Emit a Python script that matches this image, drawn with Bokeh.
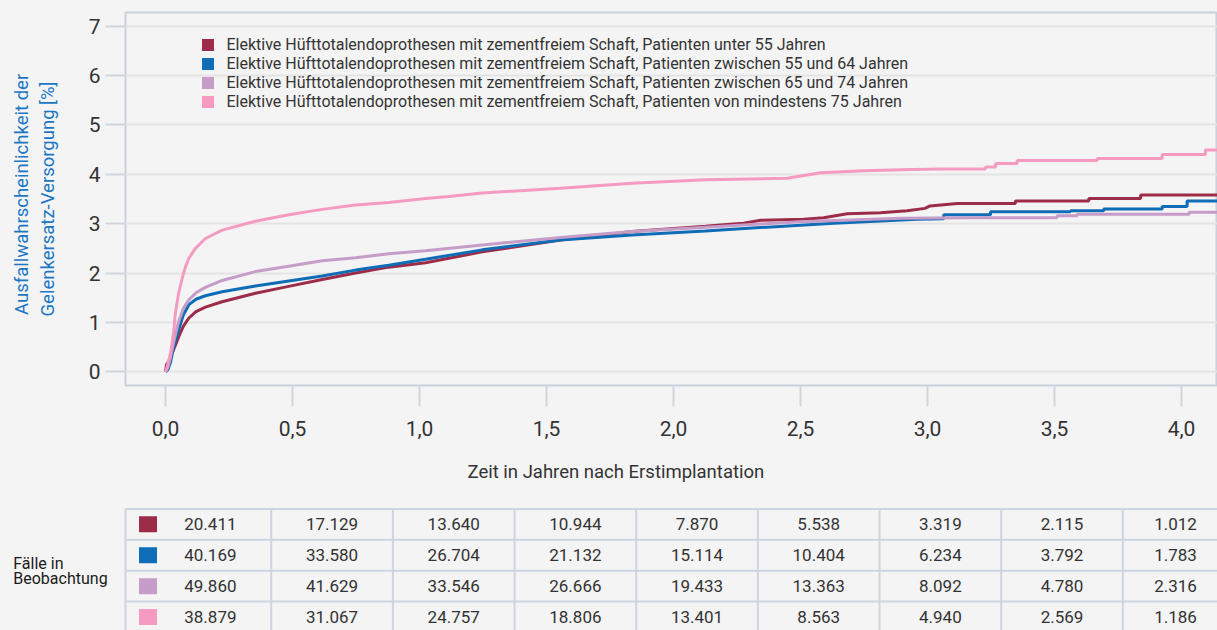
from bokeh.plotting import figure
from bokeh.models import (Range1d, FixedTicker, CustomJSTickFormatter, Legend,
                          LegendItem, Title)
from bokeh.layouts import column
from bokeh.embed import file_html
from bokeh.resources import INLINE
from bokeh.core.properties import value

# ---------------- data ----------------
series_labels = [
    "Elektive Hüfttotalendoprothesen mit zementfreiem Schaft, Patienten unter 55 Jahren",
    "Elektive Hüfttotalendoprothesen mit zementfreiem Schaft, Patienten zwischen 55 und 64 Jahren",
    "Elektive Hüfttotalendoprothesen mit zementfreiem Schaft, Patienten zwischen 65 und 74 Jahren",
    "Elektive Hüfttotalendoprothesen mit zementfreiem Schaft, Patienten von mindestens 75 Jahren",
]
colors = ["#9c2c47", "#0f6cb7", "#c69cc9", "#f59bc2"]

# cumulative failure probability [%] over years since implantation
t_u55 = [0, 0.004, 0.012, 0.026, 0.04, 0.052, 0.07, 0.092, 0.12, 0.157, 0.223, 0.354,
         0.485, 0.617, 0.748, 0.879, 1.024, 1.247, 1.555, 1.837, 2.126, 2.172, 2.276,
         2.343, 2.512, 2.591, 2.684, 2.815, 2.92, 2.99, 3.01, 3.117, 3.346, 3.346,
         3.635, 3.635, 3.839, 3.839, 4.15]
y_u55 = [0, 0.15, 0.2, 0.38, 0.55, 0.71, 0.92, 1.09, 1.22, 1.31, 1.42, 1.59,
         1.73, 1.87, 2.0, 2.12, 2.21, 2.43, 2.67, 2.84, 2.95, 2.97, 3.01,
         3.07, 3.09, 3.12, 3.2, 3.22, 3.26, 3.31, 3.36, 3.41, 3.41, 3.46,
         3.46, 3.51, 3.51, 3.58, 3.58]

t_55_64 = [0, 0.01, 0.02, 0.03, 0.04, 0.052, 0.07, 0.092, 0.12, 0.157, 0.223, 0.354,
           0.485, 0.617, 0.748, 0.879, 1.024, 1.247, 1.555, 1.837, 2.126, 2.369,
           2.631, 2.959, 3.064, 3.064, 3.248, 3.248, 3.563, 3.563, 3.694, 3.694,
           3.924, 3.924, 4.022, 4.022, 4.15]
y_55_64 = [0, 0.05, 0.2, 0.45, 0.65, 0.85, 1.15, 1.36, 1.47, 1.54, 1.62, 1.74,
           1.84, 1.94, 2.06, 2.16, 2.28, 2.47, 2.67, 2.77, 2.85, 2.93,
           3.01, 3.09, 3.1, 3.18, 3.18, 3.24, 3.24, 3.26, 3.26, 3.3,
           3.3, 3.35, 3.35, 3.46, 3.46]

t_65_74 = [0, 0.01, 0.02, 0.03, 0.04, 0.052, 0.07, 0.092, 0.12, 0.157, 0.223, 0.354,
           0.485, 0.617, 0.748, 0.879, 1.024, 1.247, 1.555, 1.837, 2.126, 2.5,
           2.894, 3.17, 3.51, 3.51, 3.589, 3.589, 4.03, 4.03, 4.15]
y_65_74 = [0, 0.1, 0.3, 0.55, 0.78, 1.02, 1.28, 1.46, 1.6, 1.71, 1.85, 2.03,
           2.14, 2.25, 2.31, 2.39, 2.45, 2.57, 2.72, 2.84, 2.93, 3.04,
           3.11, 3.12, 3.12, 3.16, 3.16, 3.19, 3.19, 3.23, 3.23]

t_75 = [0, 0.007, 0.013, 0.02, 0.026, 0.033, 0.039, 0.046, 0.052, 0.066, 0.079, 0.092,
        0.118, 0.157, 0.223, 0.354, 0.485, 0.617, 0.748, 0.879, 1.024, 1.115, 1.247,
        1.555, 1.837, 2.126, 2.448, 2.579, 2.75, 2.894, 3.05, 3.228, 3.228, 3.268,
        3.268, 3.353, 3.353, 3.668, 3.668, 3.924, 3.924, 4.094, 4.094, 4.15]
y_75 = [0, 0.12, 0.24, 0.38, 0.58, 0.85, 1.19, 1.42, 1.6, 1.9, 2.13, 2.3,
        2.5, 2.7, 2.87, 3.05, 3.18, 3.29, 3.38, 3.43, 3.51, 3.55, 3.62,
        3.72, 3.82, 3.89, 3.92, 4.03, 4.07, 4.09, 4.11, 4.11, 4.15, 4.15,
        4.22, 4.22, 4.28, 4.28, 4.32, 4.32, 4.40, 4.40, 4.49, 4.49]

series_t = [t_u55, t_55_64, t_65_74, t_75]
series_y = [y_u55, y_55_64, y_65_74, y_75]

x_ticks = [0.0, 0.5, 1.0, 1.5, 2.0, 2.5, 3.0, 3.5, 4.0]
y_ticks = [0, 1, 2, 3, 4, 5, 6, 7]

x_title = "Zeit in Jahren nach Erstimplantation"
y_title_lines = ["Ausfallwahrscheinlichkeit der", "Gelenkersatz-Versorgung [%]"]

# cases under observation per year (table)
years = [0, 1, 2, 3, 4, 5, 6, 7, 8]
cases_u55 = [20411, 17129, 13640, 10944, 7870, 5538, 3319, 2115, 1012]
cases_55_64 = [40169, 33580, 26704, 21132, 15114, 10404, 6234, 3792, 1783]
cases_65_74 = [49860, 41629, 33546, 26666, 19433, 13363, 8092, 4780, 2316]
cases_75 = [38879, 31067, 24757, 18806, 13401, 8563, 4940, 2569, 1186]
cases = [cases_u55, cases_55_64, cases_65_74, cases_75]
table_label_lines = ["Fälle in", "Beobachtung"]

# ---------------- styling ----------------
FONT = "Roboto"
BG = "#f4f4f4"
FRAME = "#c9d1dc"
TXT = "#333333"
NAN = float("nan")
NBSP = "\u00a0"

p = figure(width=1217, height=502, title=None,
           x_range=Range1d(-0.1575, 4.1417), y_range=Range1d(-0.277, 7.277),
           output_backend="svg", toolbar_location=None, frame_align=False,
           min_border_left=125, min_border_right=0, min_border_top=12,
           min_border_bottom=116,
           background_fill_color=BG, border_fill_color=BG,
           outline_line_color=FRAME, outline_line_width=2)

for ts, ys, c in zip(series_t, series_y, colors):
    p.line(ts, ys, line_color=c, line_width=3)

items = []
for lbl, c in zip(series_labels, colors):
    r = p.quad(left=[NAN], right=[NAN], top=[NAN], bottom=[NAN],
               fill_color=c, line_color=None)
    items.append(LegendItem(label=lbl, renderers=[r]))
legend = Legend(items=items, location=(74.5, 274.5), padding=0, margin=0,
                spacing=0, glyph_width=15, glyph_height=15, label_height=19,
                label_standoff=12, border_line_color=None,
                background_fill_alpha=0,
                label_text_font=FONT, label_text_font_size="16px",
                label_text_color=TXT)
p.add_layout(legend)

p.xaxis.ticker = FixedTicker(ticks=x_ticks)
p.xaxis.formatter = CustomJSTickFormatter(code="return tick.toFixed(1).replace('.', ',');")
p.yaxis.ticker = FixedTicker(ticks=y_ticks)
p.axis.axis_line_color = None
p.axis.major_tick_line_color = "#cfd5dd"
p.axis.major_tick_line_width = 2
p.axis.major_tick_in = 0
p.yaxis.major_tick_out = 20
p.xaxis.major_tick_out = 21
p.axis.minor_tick_line_color = None
p.axis.major_label_text_font = FONT
p.axis.major_label_text_font_size = "21px"
p.axis.major_label_text_color = TXT
p.xaxis.major_label_standoff = 14
p.yaxis.major_label_standoff = 5

p.yaxis.axis_label = NBSP * 2 + y_title_lines[0] + "\n" + y_title_lines[1]
p.yaxis.axis_label_text_color = "#1b76c5"
p.yaxis.axis_label_text_font = FONT
p.yaxis.axis_label_text_font_size = "18.5px"
p.yaxis.axis_label_text_font_style = "normal"
p.yaxis.axis_label_standoff = 27
p.yaxis.axis_label_text_line_height = 1.18

p.xgrid.visible = False
p.ygrid.grid_line_color = "#e4e4e4"
p.ygrid.grid_line_width = 2

p.add_layout(Title(text=x_title, align="left", offset=342, text_font=FONT,
                   text_font_size="18.5px", text_font_style="normal",
                   text_color=TXT, standoff=40), "below")

# ---------------- table ----------------
t = figure(width=1217, height=128, title=None,
           x_range=Range1d(-1.2251, 8.778), y_range=Range1d(3.935, -0.207),
           output_backend="svg", toolbar_location=None, min_border=0,
           frame_align=False,
           background_fill_color=BG, border_fill_color=BG,
           outline_line_color=None, x_axis_type=None, y_axis_type=None)
t.grid.visible = False

table_left = -0.1976
col_edges = [0, 1, 2, 3, 4, 5, 6, 7, 8, 8.866]
centers = [(col_edges[i] + col_edges[i + 1]) / 2 for i in range(len(years))]
row_edges = [0, 1, 2, 3, 4]
v_edges = [table_left] + col_edges[1:]

t.segment(x0=[table_left] * len(row_edges), y0=row_edges,
          x1=[col_edges[-1]] * len(row_edges), y1=row_edges,
          line_color="#cdd5df", line_width=2)
t.segment(x0=v_edges, y0=[0] * len(v_edges), x1=v_edges, y1=[4] * len(v_edges),
          line_color="#cdd5df", line_width=2)

rows = [r + 0.5 for r in range(len(cases))]
t.rect(x=[-0.0126] * len(rows), y=rows, width=18, height=16,
       width_units="screen", height_units="screen",
       fill_color=colors, line_color=None)

xs, ys, txt = [], [], []
for r, row in enumerate(cases):
    for k, n in enumerate(row):
        xs.append(centers[k])
        ys.append(r + 0.5)
        txt.append(f"{n:,}".replace(",", "."))
t.text(x=xs, y=ys, text=txt, text_align="center", text_baseline="middle",
       text_font=value(FONT), text_font_size="17px", text_color=TXT)

t.text(x=[-1.12, -1.12], y=[1.757, 2.262], text=table_label_lines,
       text_align="left", text_baseline="alphabetic", text_font=value(FONT),
       text_font_size="16px", text_color="#1a1a1a")

layout = column(p, t, spacing=0)
html = file_html(layout, INLINE)
i = html.find("</head>")
if i >= 0:
    html = html[:i] + html[i:].replace("<body", '<body style="background-color:#f4f4f4"', 1)
open("out.html", "w").write(html)
